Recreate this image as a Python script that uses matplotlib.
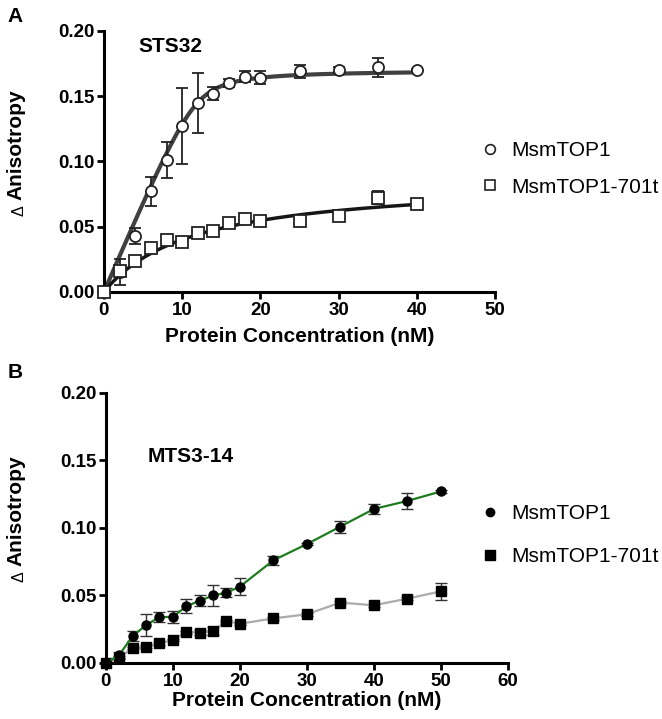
import numpy as np
import matplotlib
matplotlib.use("Agg")
import matplotlib.pyplot as plt
from matplotlib.lines import Line2D
from matplotlib.ticker import FormatStrFormatter

plt.rcParams['font.family'] = ['Liberation Sans', 'DejaVu Sans']

# panel A: STS32 anisotropy (points with SD)
conc_a = [0, 2, 4, 6, 8, 10, 12, 14, 16, 18, 20, 25, 30, 35, 40]
wt_a = [0.0, 0.015, 0.043, 0.077, 0.101, 0.127, 0.145, 0.152, 0.160, 0.165, 0.164, 0.169, 0.170, 0.172, 0.170]
wt_a_err = [0.0, 0.010, 0.006, 0.011, 0.014, 0.029, 0.023, 0.005, 0.003, 0.004, 0.005, 0.005, 0.002, 0.007, 0.001]
mut_a = [0.0, 0.016, 0.024, 0.034, 0.040, 0.038, 0.045, 0.047, 0.053, 0.056, 0.054, 0.054, 0.058, 0.072, 0.067]
mut_a_err = [0.0, 0.003, 0.002, 0.002, 0.002, 0.003, 0.002, 0.002, 0.002, 0.003, 0.002, 0.002, 0.002, 0.005, 0.002]

# fit parameters
wt_bmax, wt_lig, wt_kd = 0.170, 12.0, 0.3      # tight binding (quadratic)
mut_bmax, mut_kd = 0.0865, 11.6                # one site hyperbola

# panel B: MTS3-14
conc_b = [0, 2, 4, 6, 8, 10, 12, 14, 16, 18, 20, 25, 30, 35, 40, 45, 50]
wt_b = [0.0, 0.006, 0.020, 0.028, 0.034, 0.034, 0.042, 0.046, 0.050, 0.052, 0.0565, 0.076, 0.088, 0.101, 0.114, 0.120, 0.127]
wt_b_err = [0.0, 0.002, 0.004, 0.008, 0.0035, 0.0045, 0.005, 0.004, 0.008, 0.0035, 0.0065, 0.0035, 0.001, 0.0045, 0.004, 0.006, 0.001]
mut_b = [0.0, 0.004, 0.011, 0.012, 0.0145, 0.017, 0.0227, 0.0225, 0.0237, 0.031, 0.029, 0.033, 0.036, 0.0447, 0.0427, 0.0476, 0.053]
mut_b_err = [0.0, 0.001, 0.001, 0.001, 0.001, 0.001, 0.001, 0.002, 0.003, 0.001, 0.001, 0.001, 0.001, 0.001, 0.001, 0.001, 0.0065]

labels = ['MsmTOP1', 'MsmTOP1-701t']


def tight_binding(x, bmax, lig, kd):
    s = x + lig + kd
    return bmax * (s - np.sqrt(s * s - 4 * x * lig)) / (2 * lig)


def hyperbola(x, bmax, kd):
    return bmax * x / (kd + x)


def style_axes(ax, xmax, xpad):
    for side in ['top', 'right']:
        ax.spines[side].set_visible(False)
    for side in ['left', 'bottom']:
        ax.spines[side].set_linewidth(2.2)
    ax.set_xlim(0, xmax)
    ax.set_ylim(0, 0.20)
    ax.set_xticks(np.arange(0, xmax + 1, 10))
    ax.set_yticks([0.0, 0.05, 0.10, 0.15, 0.20])
    ax.yaxis.set_major_formatter(FormatStrFormatter('%.2f'))
    ax.tick_params(width=2, length=5, labelsize=13.5, pad=2)
    for t in ax.get_xticklabels() + ax.get_yticklabels():
        t.set_fontweight('bold')
    ax.set_xlabel('Protein Concentration (nM)', fontsize=15, fontweight='bold', labelpad=xpad)
    # bold "Anisotropy" with a small regular delta in front of it
    ax.set_ylabel('Anisotropy', fontsize=15, fontweight='bold')
    ax.yaxis.set_label_coords(-0.2, 0.565)
    ax.annotate('Δ', xy=(0.5, 0), xycoords=ax.yaxis.label, xytext=(2, -4),
                textcoords='offset points', rotation=90, ha='right', va='center',
                rotation_mode='anchor', fontsize=11.5)


fig = plt.figure(figsize=(6.62, 7.19), dpi=100)

# ---- panel A
ax1 = fig.add_axes([0.157, 0.594, 0.591, 0.363])
xs = np.linspace(0, 40, 300)
ax1.plot(xs, tight_binding(xs, wt_bmax, wt_lig, wt_kd), color='#404040', lw=3, zorder=2)
ax1.plot(xs, hyperbola(xs, mut_bmax, mut_kd), color='#151515', lw=2.5, zorder=2)
ax1.errorbar(conc_a, wt_a, yerr=wt_a_err, fmt='o', ms=8, mfc='white', mec='#222222', mew=1.3,
             ecolor='#222222', elinewidth=1.3, capsize=4, capthick=1.3, zorder=3, clip_on=False)
ax1.errorbar(conc_a, mut_a, yerr=mut_a_err, fmt='s', ms=8, mfc='white', mec='#222222', mew=1.3,
             ecolor='#222222', elinewidth=1.3, capsize=4, capthick=1.3, zorder=3, clip_on=False)
style_axes(ax1, 50, 6)
ax1.text(0.087, 0.94, 'STS32', transform=ax1.transAxes, fontsize=15, fontweight='bold', va='center')
h = [Line2D([], [], ls='none', marker=m, mfc='white', mec='#222222', mew=1.2, ms=7)
     for m in ['o', 's']]
fig.legend(h, labels, loc='upper left', bbox_to_anchor=(0.70, 0.83), frameon=False,
           fontsize=15, handlelength=0.8, handletextpad=0.6, labelspacing=0.85)
fig.text(0.012, 0.99, 'A', fontsize=15, fontweight='bold', va='top')

# ---- panel B
ax2 = fig.add_axes([0.160, 0.078, 0.607, 0.3755])
ax2.errorbar(conc_b, wt_b, yerr=wt_b_err, fmt='none', ecolor='#333333', elinewidth=1,
             capsize=4, capthick=1, zorder=2)
ax2.errorbar(conc_b, mut_b, yerr=mut_b_err, fmt='none', ecolor='#333333', elinewidth=1,
             capsize=4, capthick=1, zorder=2)
ax2.plot(conc_b, wt_b, '-o', color='#1e7b1e', lw=1.6, ms=6.5, mfc='black', mec='black',
         zorder=3, clip_on=False)
ax2.plot(conc_b, mut_b, '-s', color='#ababab', lw=1.6, ms=7, mfc='black', mec='black',
         zorder=2.5, clip_on=False)
style_axes(ax2, 60, 1)
ax2.text(0.105, 0.763, 'MTS3-14', transform=ax2.transAxes, fontsize=15, fontweight='bold', va='center')
h = [Line2D([], [], ls='none', marker=m, color='black', ms=s)
     for m, s in [('o', 6), ('s', 6.5)]]
fig.legend(h, labels, loc='upper left', bbox_to_anchor=(0.70, 0.325), frameon=False,
           fontsize=15, handlelength=0.8, handletextpad=0.6, labelspacing=1.15)
fig.text(0.012, 0.495, 'B', fontsize=15, fontweight='bold', va='top')

fig.savefig('out.png', dpi=100)
